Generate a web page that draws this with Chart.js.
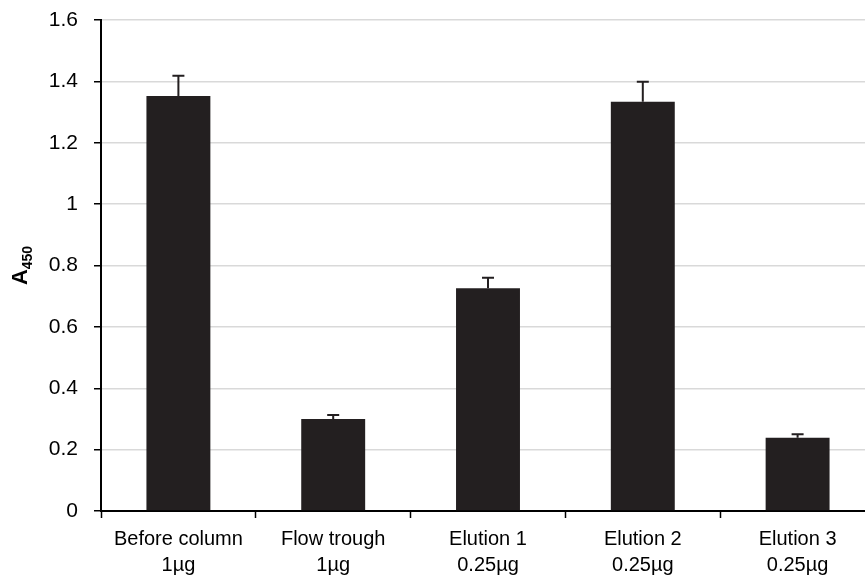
<!DOCTYPE html>
<html>
<head>
<meta charset="utf-8">
<script src="https://cdn.jsdelivr.net/npm/chart.js@4"></script>
<style>
  html, body { margin: 0; padding: 0; background: #fff; overflow: hidden; }
  #wrap { width: 880px; height: 577px; }
</style>
</head>
<body>
<div id="wrap"><canvas id="chartA450" width="880" height="577"></canvas></div>
<script>
// datos
const categorias = [
    ['Before column', '1µg'],
    ['Flow trough', '1µg'],
    ['Elution 1', '0.25µg'],
    ['Elution 2', '0.25µg'],
    ['Elution 3', '0.25µg']
];
const valores = [1.352, 0.300, 0.726, 1.334, 0.239];
const errores = [0.066, 0.013, 0.034, 0.065, 0.011];
const ticksY = [0, 0.2, 0.4, 0.6, 0.8, 1, 1.2, 1.4, 1.6];

const negro = '#231f20';
const fuente = 'Liberation Sans, Arial, sans-serif';

// barras de error
const barrasError = {
    id: 'barrasError',
    afterDatasetsDraw(chart) {
        const ctx = chart.ctx;
        const y = chart.scales.y;
        const meta = chart.getDatasetMeta(0);
        ctx.save();
        ctx.strokeStyle = negro;
        ctx.lineWidth = 2;
        meta.data.forEach((bar, i) => {
            const top = y.getPixelForValue(valores[i] + errores[i]);
            ctx.beginPath();
            ctx.moveTo(bar.x, bar.y);
            ctx.lineTo(bar.x, top);
            ctx.moveTo(bar.x - 6, top);
            ctx.lineTo(bar.x + 6, top);
            ctx.stroke();
        });
        ctx.restore();
    }
};

// título del eje Y con subíndice
const tituloY = {
    id: 'tituloY',
    afterDraw(chart) {
        const ctx = chart.ctx;
        const area = chart.chartArea;
        ctx.save();
        ctx.translate(27, (area.top + area.bottom) / 2);
        ctx.rotate(-Math.PI / 2);
        ctx.fillStyle = '#000';
        ctx.textBaseline = 'alphabetic';
        ctx.font = 'bold 22px ' + fuente;
        const wA = ctx.measureText('A').width;
        ctx.font = 'bold 14px ' + fuente;
        const wS = ctx.measureText('450').width;
        const x0 = -(wA + wS) / 2;
        ctx.font = 'bold 22px ' + fuente;
        ctx.fillText('A', x0, 0);
        ctx.font = 'bold 14px ' + fuente;
        ctx.fillText('450', x0 + wA, 5);
        ctx.restore();
    }
};

new Chart(document.getElementById('chartA450'), {
    type: 'bar',
    data: {
        labels: categorias,
        datasets: [{
            data: valores,
            backgroundColor: negro,
            borderWidth: 0,
            categoryPercentage: 1,
            barPercentage: 0.413
        }]
    },
    options: {
        responsive: false,
        animation: false,
        layout: { padding: { top: 0, right: 5, left: 0, bottom: 0 } },
        plugins: { legend: { display: false }, tooltip: { enabled: false } },
        scales: {
            x: {
                afterFit: s => { s.height = 66; s.paddingLeft = 0; s.paddingRight = 0; },
                grid: { drawOnChartArea: false, drawTicks: true, tickLength: 7, tickColor: '#000', tickWidth: 1.5, offset: true },
                border: { color: '#000', width: 2 },
                ticks: { color: '#000', font: { family: fuente, size: 20, lineHeight: 1.3 }, padding: 8, maxRotation: 0, autoSkip: false }
            },
            y: {
                min: 0,
                max: 1.6,
                afterFit: s => { s.width = 101; s.paddingTop = 20; s.paddingBottom = 0; },
                afterBuildTicks: s => { s.ticks = ticksY.map(v => ({ value: v })); },
                grid: { color: '#d9d9d9', lineWidth: 1.5, drawTicks: true, tickLength: 7, tickColor: '#000', tickWidth: 1.5 },
                border: { color: '#000', width: 2 },
                ticks: { color: '#000', font: { family: fuente, size: 21, lineHeight: 1 }, padding: 16, callback: v => String(v) }
            }
        }
    },
    plugins: [barrasError, tituloY]
});
</script>
</body>
</html>
